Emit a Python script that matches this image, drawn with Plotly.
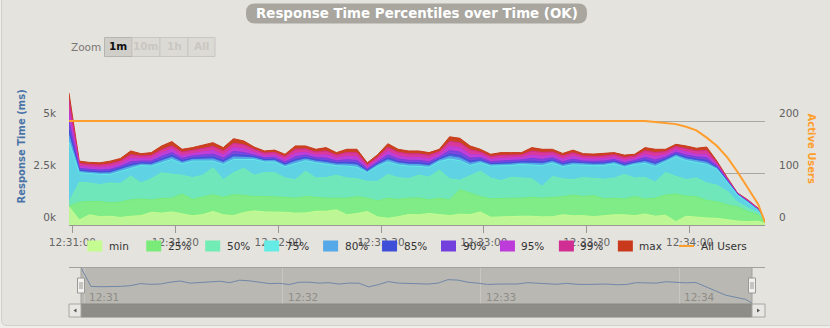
import plotly.graph_objects as go

# ---------------- data ----------------
times = [
    "12:30:59",
    "12:31:02", "12:31:05", "12:31:08", "12:31:11", "12:31:14", "12:31:17", "12:31:20", "12:31:23", "12:31:26", "12:31:29",
    "12:31:32", "12:31:35", "12:31:38", "12:31:41", "12:31:44", "12:31:47", "12:31:50", "12:31:53", "12:31:56", "12:31:59",
    "12:32:02", "12:32:05", "12:32:08", "12:32:11", "12:32:14", "12:32:17", "12:32:20", "12:32:23", "12:32:26", "12:32:29",
    "12:32:32", "12:32:35", "12:32:38", "12:32:41", "12:32:44", "12:32:47", "12:32:50", "12:32:53", "12:32:56", "12:32:59",
    "12:33:02", "12:33:05", "12:33:08", "12:33:11", "12:33:14", "12:33:17", "12:33:20", "12:33:23", "12:33:26", "12:33:29",
    "12:33:32", "12:33:35", "12:33:38", "12:33:41", "12:33:44", "12:33:47", "12:33:50", "12:33:53", "12:33:56", "12:33:59",
    "12:34:02", "12:34:05", "12:34:08", "12:34:11", "12:34:14", "12:34:17", "12:34:20", "12:34:22",
]

p_max = [6340,
         3070, 3010, 2990, 3070, 3200, 3560, 3430, 3480, 3800, 4010, 3640, 3720, 3850, 3960, 3720, 4150, 4040, 3750, 3560, 3600,
         3400, 3800, 3800, 3640, 3720, 3480, 3640, 3640, 2990, 3380, 3910, 3640, 3560, 3560, 3480, 3640, 4240, 4170, 3800, 3640,
         3400, 3480, 3480, 3480, 3720, 3640, 3640, 3440, 3600, 3430, 3410, 3430, 3480, 3360, 3400, 3720, 3640, 3640, 3880, 3800,
         3690, 3750, 3070, 2280, 1540, 1210, 810, 160]
p99 = [6000,
       2960, 2910, 2880, 2940, 3080, 3380, 3320, 3350, 3620, 3800, 3510, 3590, 3690, 3770, 3560, 3930, 3860, 3640, 3460, 3490,
       3290, 3640, 3660, 3510, 3560, 3360, 3480, 3470, 2900, 3270, 3730, 3500, 3420, 3420, 3350, 3530, 4020, 3950, 3620, 3510,
       3290, 3350, 3360, 3370, 3560, 3490, 3510, 3320, 3470, 3320, 3300, 3320, 3380, 3250, 3310, 3570, 3480, 3530, 3770, 3670,
       3560, 3590, 2990, 2235, 1525, 1185, 785, 159]
p95 = [5500,
       2830, 2780, 2755, 2800, 2940, 3200, 3190, 3205, 3460, 3640, 3345, 3445, 3520, 3580, 3380, 3730, 3660, 3495, 3335, 3360,
       3145, 3445, 3500, 3365, 3380, 3215, 3300, 3275, 2790, 3145, 3540, 3320, 3250, 3245, 3180, 3390, 3790, 3715, 3400, 3365,
       3160, 3205, 3220, 3240, 3365, 3305, 3360, 3170, 3300, 3190, 3175, 3190, 3250, 3115, 3195, 3400, 3290, 3385, 3625, 3505,
       3405, 3395, 2905, 2180, 1500, 1155, 760, 158]
p90 = [5000,
       2725, 2680, 2645, 2680, 2825, 3040, 3080, 3080, 3300, 3480, 3210, 3320, 3370, 3410, 3220, 3535, 3490, 3380, 3235, 3250,
       3030, 3285, 3365, 3240, 3220, 3090, 3140, 3110, 2700, 3040, 3370, 3180, 3110, 3105, 3045, 3275, 3580, 3505, 3220, 3240,
       3050, 3080, 3100, 3130, 3205, 3155, 3235, 3045, 3165, 3080, 3065, 3080, 3150, 3005, 3100, 3255, 3130, 3270, 3510, 3370,
       3280, 3235, 2830, 2135, 1480, 1130, 740, 156]
p85 = [4600,
       2640, 2595, 2560, 2580, 2730, 2910, 2990, 2980, 3175, 3350, 3100, 3220, 3250, 3275, 3095, 3380, 3355, 3290, 3150, 3160,
       2940, 3150, 3255, 3140, 3095, 2995, 3015, 2980, 2630, 2955, 3230, 3060, 2995, 2990, 2935, 3185, 3420, 3340, 3075, 3140,
       2960, 2980, 3005, 3040, 3075, 3030, 3130, 2945, 3055, 2990, 2980, 2990, 3065, 2915, 3025, 3135, 3000, 3180, 3420, 3260,
       3175, 3105, 2770, 2095, 1465, 1110, 725, 154]
p80 = [4300,
       2575, 2530, 2495, 2505, 2660, 2815, 2925, 2905, 3085, 3250, 3020, 3145, 3160, 3170, 3005, 3265, 3250, 3220, 3090, 3095,
       2870, 3055, 3170, 3065, 3005, 2920, 2925, 2880, 2575, 2895, 3130, 2975, 2915, 2905, 2850, 3120, 3290, 3215, 2970, 3065,
       2895, 2905, 2930, 2975, 2975, 2940, 3055, 2875, 2970, 2925, 2915, 2925, 3000, 2845, 2965, 3045, 2905, 3110, 3350, 3180,
       3095, 3005, 2725, 2070, 1450, 1095, 715, 152]
p75 = [4000,
       2510, 2470, 2430, 2430, 2590, 2720, 2860, 2830, 2990, 3150, 2940, 3070, 3070, 3070, 2910, 3150, 3150, 3150, 3030, 3030,
       2800, 2960, 3090, 2990, 2910, 2850, 2830, 2780, 2520, 2830, 3030, 2890, 2830, 2820, 2770, 3050, 3170, 3090, 2860, 2990,
       2830, 2830, 2860, 2910, 2880, 2850, 2980, 2800, 2890, 2860, 2850, 2860, 2940, 2780, 2910, 2960, 2810, 3040, 3280, 3100,
       3020, 2910, 2680, 2040, 1440, 1080, 700, 150]
p50 = [1100,
       2050, 2020, 1940, 2020, 1990, 2350, 2020, 2220, 2510, 2440, 2390, 2280, 2390, 2750, 2180, 2510, 2730, 2390, 2520, 2510,
       2260, 2180, 2590, 2260, 2280, 2390, 2260, 2220, 2100, 2100, 2430, 2280, 2220, 2400, 2300, 2640, 2220, 2150, 2380, 2590,
       2260, 2130, 2300, 2260, 2220, 1860, 2330, 2220, 2180, 2280, 2250, 2200, 2250, 2430, 2260, 2280, 2070, 2520, 2340, 2180,
       2260, 2020, 1910, 1620, 1100, 820, 600, 140]
p25 = [900,
       1100, 1130, 1130, 1070, 1100, 1210, 1250, 1210, 1280, 1290, 1490, 1230, 1340, 1460, 1330, 1460, 1430, 1370, 1370, 1360,
       1330, 1290, 1370, 1330, 1290, 1290, 1290, 1360, 1290, 1160, 1290, 1230, 1290, 1300, 1210, 1290, 1210, 1700, 1540, 1370,
       1260, 1290, 1290, 1290, 1330, 1290, 1310, 1360, 1440, 1370, 1420, 1260, 1290, 1250, 1370, 1250, 1290, 1440, 1490, 1390,
       1360, 1180, 1120, 970, 870, 650, 490, 130]
p_min = [880,
         240, 490, 400, 420, 360, 420, 450, 610, 570, 630, 520, 440, 500, 650, 490, 450, 600, 680, 630, 630,
         610, 570, 580, 660, 660, 730, 490, 550, 650, 390, 320, 400, 500, 490, 550, 500, 450, 520, 500, 630,
         370, 390, 420, 420, 420, 390, 400, 490, 440, 450, 400, 450, 490, 490, 450, 530, 420, 470, 160, 420,
         370, 340, 320, 240, 190, 160, 180, 80]
active_users = [200,
                200, 200, 200, 200, 200, 200, 200, 200, 200, 200, 200, 200, 200, 200, 200, 200, 200, 200, 200, 200,
                200, 200, 200, 200, 200, 200, 200, 200, 200, 200, 200, 200, 200, 200, 200, 200, 200, 200, 200, 200,
                200, 200, 200, 200, 200, 200, 200, 200, 200, 200, 200, 200, 200, 200, 200, 200, 198, 196, 194, 189,
                182, 168, 152, 130, 102, 71, 40, 5]

legend_labels = ["min", "25%", "50%", "75%", "80%", "85%", "90%", "95%", "99%", "max"]
legend_colors = ["#c4fc91", "#7aeb79", "#71ecb4", "#64ebe6", "#55a9e9",
                 "#3e4ed7", "#7440dd", "#bd3bd8", "#d12e93", "#c9391b"]
fill_colors = ["#bcf695", "#80ec87", "#70e7bb", "#5fd2e4", "#58abe8",
               "#4c5cdb", "#7b48df", "#c13fd6", "#d8399a", "#c9431e"]
percentile_values = [p_min, p25, p50, p75, p80, p85, p90, p95, p99, p_max]

y_tickvals = [0, 2500, 5000, 7500]
y_ticktext = ["0k", "2.5k", "5k", ""]
y2_tickvals = [0, 100, 200]
nav_ticks = ["12:31:00", "12:32:00", "12:33:00", "12:34:00"]
nav_labels = ["12:31", "12:32", "12:33", "12:34"]
zoom_buttons = ["1m", "10m", "1h", "All"]

TITLE = "Response Time Percentiles over Time (OK)"
ORANGE = "#ff9e2c"
FONT = "DejaVu Sans"

# ---------------- figure ----------------
W, H = 830, 328
def px(x):
    return x / W
def py(y):
    return 1 - y / H
def P(x, y):
    return f"{px(x):.5f},{py(y):.5f}"
def rrect(x0, y0, x1, y1, r):
    return (f"M {P(x0 + r, y0)} L {P(x1 - r, y0)} Q {P(x1, y0)} {P(x1, y0 + r)} "
            f"L {P(x1, y1 - r)} Q {P(x1, y1)} {P(x1 - r, y1)} L {P(x0 + r, y1)} "
            f"Q {P(x0, y1)} {P(x0, y1 - r)} L {P(x0, y0 + r)} Q {P(x0, y0)} {P(x0 + r, y0)} Z")

DATE = "2024-01-01 "
xs = [DATE + t for t in times]

fig = go.Figure()
# back (max) to front (min)
for i in reversed(range(len(legend_labels))):
    fig.add_trace(go.Scatter(
        x=xs, y=percentile_values[i], mode="lines", fill="tozeroy",
        fillcolor=fill_colors[i], line=dict(color=legend_colors[i], width=1),
        name=legend_labels[i], showlegend=False, xaxis="x", yaxis="y", hoverinfo="skip"))
fig.add_trace(go.Scatter(x=xs, y=active_users, mode="lines", name="All Users",
                         line=dict(color=ORANGE, width=2), xaxis="x", yaxis="y2",
                         showlegend=False, hoverinfo="skip"))
# navigator series
fig.add_trace(go.Scatter(x=xs, y=p_max, mode="lines", line=dict(color="#7088a8", width=1),
                         xaxis="x2", yaxis="y3", showlegend=False, hoverinfo="skip"))

shapes = []
annotations = []

# container
shapes.append(dict(type="path", xref="paper", yref="paper", layer="below",
                   path=f"M {P(1.5, -10)} L {P(1.5, 320)} Q {P(1.5, 325.5)} {P(7, 325.5)} L {P(840, 325.5)} L {P(840, -10)} Z",
                   fillcolor="#e5e3de", line=dict(color="#d3d1cc", width=1)))
# navigator background
shapes.append(dict(type="rect", xref="paper", yref="paper", layer="below",
                   x0=px(81), x1=px(752), y0=py(304), y1=py(267),
                   fillcolor="#bab8b2", line=dict(width=0)))
shapes.append(dict(type="line", xref="paper", yref="paper", layer="above",
                   x0=px(69), x1=px(765), y0=py(267.5), y1=py(267.5),
                   line=dict(color="#a3a19b", width=1)))
for xv in (81, 752):
    shapes.append(dict(type="line", xref="paper", yref="paper", layer="above",
                       x0=px(xv), x1=px(xv), y0=py(267.5), y1=py(304),
                       line=dict(color="#a3a19b", width=1)))
# scrollbar
shapes.append(dict(type="rect", xref="paper", yref="paper", layer="above",
                   x0=px(81), x1=px(752), y0=py(317), y1=py(304),
                   fillcolor="#8f8d88", line=dict(color="#8a8883", width=1)))
for bx0, bx1 in ((69, 81), (752, 765)):
    shapes.append(dict(type="rect", xref="paper", yref="paper", layer="above",
                       x0=px(bx0), x1=px(bx1), y0=py(317), y1=py(304),
                       fillcolor="#e9e7e3", line=dict(color="#a8a6a0", width=1)))
shapes.append(dict(type="path", xref="paper", yref="paper", layer="above",
                   path=f"M {P(76.5, 308.5)} L {P(73.5, 310.5)} L {P(76.5, 312.5)} Z",
                   fillcolor="#555555", line=dict(width=0)))
shapes.append(dict(type="path", xref="paper", yref="paper", layer="above",
                   path=f"M {P(757, 308.5)} L {P(760, 310.5)} L {P(757, 312.5)} Z",
                   fillcolor="#555555", line=dict(width=0)))
# navigator handles
for hx in (81, 752):
    shapes.append(dict(type="rect", xref="paper", yref="paper", layer="above",
                       x0=px(hx - 3.5), x1=px(hx + 3.5), y0=py(293), y1=py(278),
                       fillcolor="#f2f1ef", line=dict(color="#9a9893", width=1)))
    for lx in (hx - 1, hx + 1):
        shapes.append(dict(type="line", xref="paper", yref="paper", layer="above",
                           x0=px(lx), x1=px(lx), y0=py(289), y1=py(282),
                           line=dict(color="#9a9893", width=1)))
# navigator labels (placed on the navigator's own time axis)
for t, lab in zip(nav_ticks, nav_labels):
    annotations.append(dict(text=lab, x=DATE + t, xref="x2", y=py(297), yref="paper",
                            xanchor="left", yanchor="middle", xshift=3, showarrow=False,
                            font=dict(family=FONT, size=10.5, color="#8e8c87")))
# title box
shapes.append(dict(type="path", xref="paper", yref="paper", layer="above",
                   path=rrect(246, 3.5, 587, 23.5, 9),
                   fillcolor="#a8a69f", line=dict(width=0)))
annotations.append(dict(text=f"<b>{TITLE}</b>", x=px(416.5), y=py(13.5), xref="paper", yref="paper",
                        showarrow=False, xanchor="center", yanchor="middle",
                        font=dict(family=FONT, size=13.4, color="#ffffff")))
# zoom buttons
annotations.append(dict(text="Zoom", x=px(69), y=py(47.5), xref="paper", yref="paper",
                        showarrow=False, xanchor="left", yanchor="middle",
                        font=dict(family=FONT, size=10.5, color="#7a7874")))
bx = [104.5, 132, 160, 188, 215]
for i, lab in enumerate(zoom_buttons):
    sel = i == 0
    shapes.append(dict(type="rect", xref="paper", yref="paper", layer="above",
                       x0=px(bx[i]), x1=px(bx[i + 1]), y0=py(56.5), y1=py(37.5),
                       fillcolor="#d0cec9" if sel else "#dcdad5",
                       line=dict(color="#b7b5b0" if sel else "#c9c7c2", width=1)))
    annotations.append(dict(text=f"<b>{lab}</b>", x=px((bx[i] + bx[i + 1]) / 2), y=py(46.5),
                            xref="paper", yref="paper", showarrow=False,
                            xanchor="center", yanchor="middle",
                            font=dict(family=FONT, size=10.5, color="#111111" if sel else "#c9c7c2")))
# axis titles
annotations.append(dict(text="<b>Response Time (ms)</b>", x=px(20.5), y=py(147), xref="paper", yref="paper",
                        showarrow=False, textangle=-90, xanchor="center", yanchor="middle",
                        font=dict(family=FONT, size=10, color="#4a74a8")))
annotations.append(dict(text="<b>Active Users</b>", x=px(811.5), y=py(148), xref="paper", yref="paper",
                        showarrow=False, textangle=90, xanchor="center", yanchor="middle",
                        font=dict(family=FONT, size=10, color=ORANGE)))
# legend
for i, lab in enumerate(legend_labels):
    x0 = 87.3 + 58.95 * i
    shapes.append(dict(type="rect", xref="paper", yref="paper", layer="above",
                       x0=px(x0), x1=px(x0 + 15), y0=py(251.5), y1=py(240.5),
                       fillcolor=legend_colors[i], line=dict(width=0)))
    annotations.append(dict(text=lab, x=px(x0 + 19.5), y=py(246.5), xref="paper", yref="paper",
                            showarrow=False, xanchor="left", yanchor="middle",
                            font=dict(family=FONT, size=10.5, color="#333333")))
shapes.append(dict(type="line", xref="paper", yref="paper", layer="above",
                   x0=px(679), x1=px(694), y0=py(246), y1=py(246),
                   line=dict(color=ORANGE, width=2)))
annotations.append(dict(text="All Users", x=px(698.5), y=py(246.5), xref="paper", yref="paper",
                        showarrow=False, xanchor="left", yanchor="middle",
                        font=dict(family=FONT, size=10.5, color="#333333")))

fig.update_layout(
    width=W, height=H, autosize=False,
    margin=dict(l=0, r=0, t=0, b=0, pad=0, autoexpand=False),
    paper_bgcolor="#efeeeb", plot_bgcolor="rgba(0,0,0,0)",
    font=dict(family=FONT, size=10.5, color="#666666"),
    showlegend=False,
    xaxis=dict(domain=[px(69), px(765)], range=[xs[0], xs[-1]], type="date",
               tickformat="%H:%M:%S", tick0=DATE + "12:31:00", dtick=30000,
               ticks="outside", ticklen=7, tickcolor="#9a9893", tickwidth=1,
               showline=True, linecolor="#9a9893", linewidth=1,
               showgrid=False, zeroline=False, anchor="y", automargin=False,
               tickfont=dict(family=FONT, size=10.5, color="#666666")),
    yaxis=dict(domain=[py(225), py(69)], range=[0, 7500],
               tickvals=y_tickvals, ticktext=y_ticktext,
               showgrid=True, gridcolor="#a9a7a2", gridwidth=1,
               zeroline=False, showline=False, ticks="", automargin=False,
               ticklabelposition="outside top", ticklabelstandoff=12,
               tickfont=dict(family=FONT, size=10.5, color="#606060")),
    yaxis2=dict(overlaying="y", side="right", anchor="x", range=[0, 300],
                tickvals=y2_tickvals, showgrid=False, zeroline=False, showline=False,
                ticks="", ticklabelposition="outside top", ticklabelstandoff=13, automargin=False,
                tickfont=dict(family=FONT, size=10.5, color="#606060")),
    xaxis2=dict(domain=[px(81), px(752)], anchor="y3", range=[xs[0], xs[-1]], type="date",
                tickvals=[DATE + t for t in nav_ticks], showticklabels=False,
                ticks="", automargin=False,
                showgrid=True, gridcolor="#c9c7c1", gridwidth=1,
                showline=False, zeroline=False),
    yaxis3=dict(domain=[py(304), py(267)], anchor="x2", range=[0, 6450], visible=False,
                automargin=False),
    shapes=shapes,
    annotations=annotations,
)

fig.write_html("out.html")
